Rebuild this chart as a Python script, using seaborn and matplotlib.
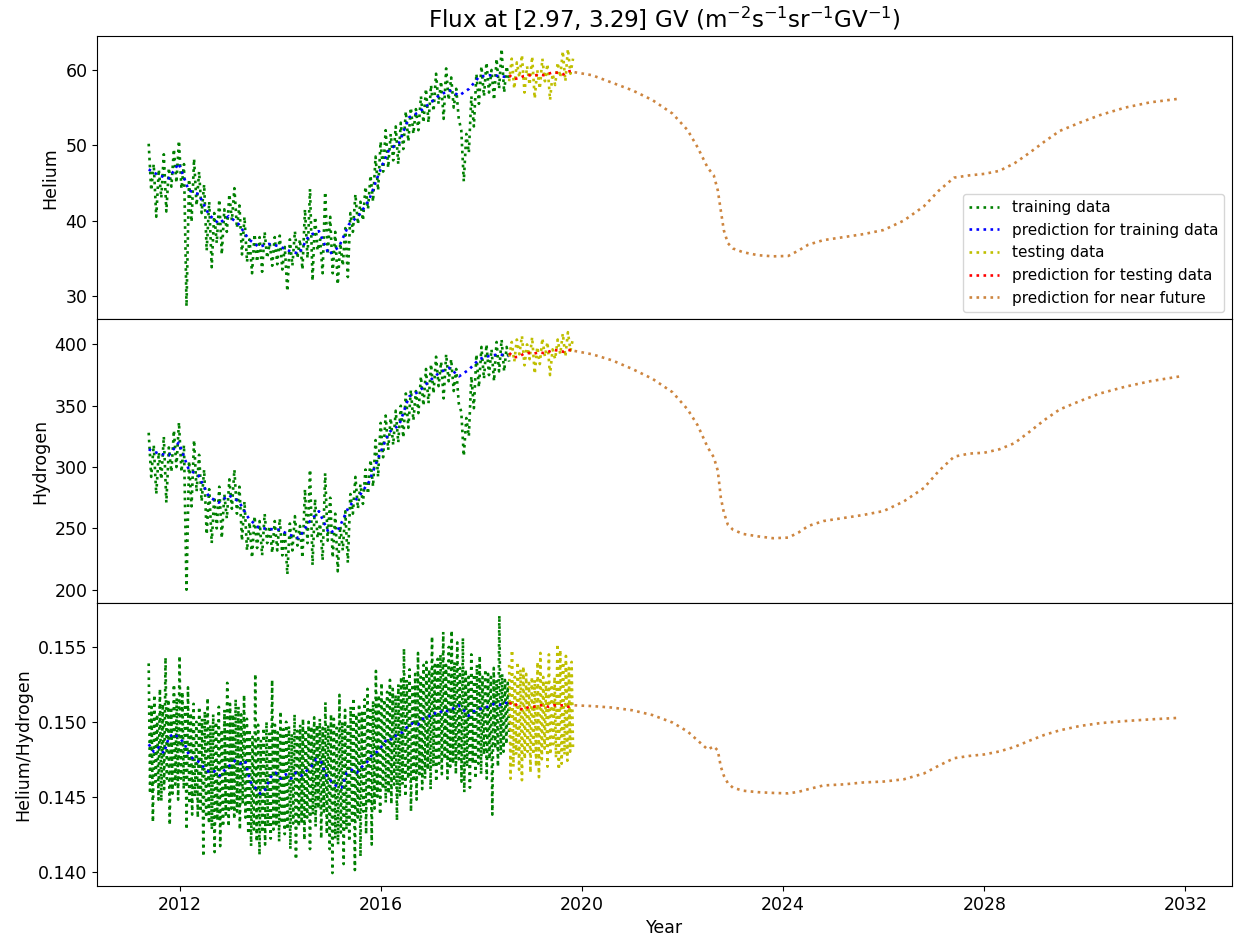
import numpy as np
import pandas as pd
import seaborn as sns
import matplotlib.pyplot as plt
from matplotlib.ticker import MultipleLocator, FormatStrFormatter

# ---- data (decimal years) ----
train_span = (2011.38, 2018.55)
test_span = (2018.55, 2019.82)

future_years = [2019.85, 2020.2, 2020.6, 2021.0, 2021.4, 2021.8, 2022.1, 2022.3, 2022.5, 2022.62,
                2022.70, 2022.76, 2022.82, 2022.9, 2023.0, 2023.2, 2023.5, 2023.8, 2024.1, 2024.3,
                2024.5, 2024.8, 2025.2, 2025.6, 2026.0, 2026.4, 2026.8, 2027.1, 2027.4, 2027.7,
                2028.0, 2028.3, 2028.6, 2028.9, 2029.2, 2029.5, 2029.9, 2030.3, 2030.8, 2031.3, 2031.9]

# helium
he_train = [50.2, 44.0, 47.5, 40.5, 46.8, 43.0, 48.8, 41.2, 47.0, 44.5,
            49.5, 45.0, 50.6, 44.2, 47.5, 28.6, 45.5, 39.8, 48.2, 42.0,
            46.5, 41.0, 44.8, 36.0, 42.5, 33.8, 41.0, 37.0, 42.8, 35.5,
            41.5, 38.5, 43.5, 40.0, 44.3, 39.0, 42.0, 35.5, 40.5, 34.5,
            37.5, 33.0, 38.2, 34.5, 37.8, 33.2, 38.5, 35.0, 37.0, 34.0,
            37.8, 34.2, 38.0, 33.5, 36.5, 30.6, 37.5, 34.0, 38.6, 35.0,
            37.5, 33.5, 41.5, 35.0, 44.2, 32.0, 40.5, 36.0, 37.5, 33.0,
            43.8, 35.5, 40.5, 33.0, 38.5, 31.5, 37.0, 34.0, 39.0, 32.5,
            41.0, 38.5, 43.5, 39.5, 42.5, 40.0, 44.5, 41.5, 46.0, 42.5,
            48.5, 44.0, 50.5, 46.5, 52.0, 47.0, 51.5, 48.0, 52.5, 47.5,
            53.0, 49.5, 54.5, 50.5, 55.0, 51.5, 54.8, 52.0, 56.5, 53.0,
            57.5, 53.0, 58.0, 54.5, 59.5, 55.5, 58.5, 53.5, 60.2, 56.0,
            59.0, 55.0, 57.5, 53.5, 52.0, 45.2, 51.5, 49.0, 56.5, 52.5,
            59.5, 55.5, 60.5, 56.5, 61.0, 57.0, 60.0, 56.0, 61.5, 57.5,
            62.8, 57.0, 60.5, 58.5]
he_train_pred = [46.8, 46.0, 45.6, 47.6, 44.0, 43.5, 40.8, 39.6, 40.6, 39.5, 37.5, 36.5, 36.9,
                 36.6, 36.0, 35.6, 38.0, 38.6, 35.5, 36.5, 39.5, 40.7, 42.7, 46.3, 49.4, 50.3,
                 53.7, 54.4, 55.5, 56.6, 57.3, 56.6, 57.5, 59.1, 59.3, 59.2, 59.0]
he_test = [58.5, 61.5, 57.5, 61.0, 59.0, 62.0, 57.0, 60.5, 58.0, 61.8, 56.2, 60.0, 57.5,
           61.5, 58.5, 60.8, 56.0, 59.5, 58.0, 61.0, 59.0, 62.5, 58.5, 62.8, 59.5, 61.5]
he_test_pred = [59.3, 58.8, 58.9, 59.2, 59.3, 59.2, 59.4, 59.3, 59.5, 59.7, 59.6, 59.4, 59.8, 59.9]
he_future = [59.7, 59.3, 58.3, 57.3, 56.0, 54.2, 52.0, 49.7, 47.0, 46.0,
             44.0, 41.3, 38.7, 37.0, 36.3, 35.8, 35.4, 35.25, 35.3, 36.0,
             36.8, 37.4, 37.8, 38.2, 38.75, 40.0, 41.9, 44.0, 45.7, 46.0,
             46.2, 46.6, 47.6, 49.0, 50.5, 51.9, 53.0, 54.0, 55.0, 55.7, 56.2]

# hydrogen
h_train = [328.0, 292.0, 318.0, 278.0, 312.0, 290.0, 325.0, 271.0, 316.0, 296.0,
           330.0, 300.0, 336.5, 296.0, 318.0, 200.0, 305.0, 268.0, 322.0, 280.0,
           310.0, 272.0, 298.0, 245.0, 282.0, 238.0, 276.0, 250.0, 284.0, 242.0,
           278.0, 258.0, 290.0, 266.0, 298.0, 262.0, 284.0, 240.0, 272.0, 232.0,
           255.0, 226.0, 260.0, 234.0, 256.0, 228.0, 262.0, 238.0, 252.0, 230.0,
           256.0, 232.0, 258.0, 228.0, 248.0, 212.5, 254.0, 232.0, 260.0, 236.0,
           252.0, 226.0, 282.0, 238.0, 298.0, 220.0, 274.0, 242.0, 254.0, 224.0,
           295.0, 240.0, 275.0, 226.0, 262.0, 215.0, 252.0, 232.0, 264.0, 222.0,
           278.0, 262.0, 292.0, 266.0, 286.0, 270.0, 298.0, 278.0, 306.0, 284.0,
           322.0, 292.0, 336.0, 308.0, 342.0, 314.0, 340.0, 318.0, 346.0, 320.0,
           350.0, 324.0, 360.0, 332.0, 363.0, 338.0, 362.0, 344.0, 374.0, 350.0,
           380.0, 352.0, 384.0, 360.0, 390.0, 366.0, 386.0, 356.0, 392.0, 370.0,
           388.0, 362.0, 380.0, 352.0, 345.0, 309.0, 340.0, 325.0, 374.0, 348.0,
           392.0, 365.0, 398.0, 372.0, 400.0, 375.0, 396.0, 370.0, 402.0, 378.0,
           404.0, 378.0, 398.0, 386.0]
h_train_pred = [314.5, 311.0, 309.5, 320.0, 298.0, 293.0, 276.0, 271.0, 277.0, 272.0, 258.0,
                250.5, 249.5, 249.0, 245.0, 242.0, 255.0, 264.0, 246.0, 250.0, 268.0, 276.0,
                288.0, 309.0, 328.5, 334.0, 357.5, 361.6, 370.0, 376.8, 381.0, 374.0, 379.6,
                388.0, 390.6, 392.0, 390.6]
h_test = [390, 402, 386, 404, 392, 407, 383, 400, 388, 406, 376, 398, 384,
          405, 390, 402, 375, 396, 388, 404, 392, 409, 390, 410, 395, 405]
h_test_pred = [393.0, 389.5, 390.0, 392.5, 393.0, 392.5, 393.5, 393.0, 394.0, 395.5,
               395.0, 394.0, 395.5, 395.0]
h_future = [394.7, 392.0, 387.0, 380.0, 372.0, 361.0, 347.0, 334.0, 316.0, 308.0,
            297.0, 275.0, 263.0, 253.0, 249.0, 245.5, 243.5, 242.0, 242.5, 246.5,
            252.0, 256.0, 258.5, 261.0, 264.2, 272.0, 283.0, 297.0, 308.5, 311.0,
            311.7, 314.5, 319.5, 328.8, 338.5, 347.0, 353.8, 360.0, 365.5, 370.0, 374.0]

# helium / hydrogen
ratio_train = [0.1539, 0.1452, 0.1510, 0.1433, 0.1518, 0.1460, 0.1505, 0.1448, 0.1522,
               0.1447, 0.1512, 0.1455, 0.1543, 0.1462, 0.1515, 0.1431, 0.1508, 0.1452,
               0.1525, 0.1458, 0.1516, 0.1448, 0.1544, 0.1462, 0.1520, 0.1455, 0.1512,
               0.1428, 0.1523, 0.1445, 0.1506, 0.1438, 0.1512, 0.1450, 0.1500, 0.1436,
               0.1510, 0.1440, 0.1502, 0.1410, 0.1507, 0.1436, 0.1516, 0.1432, 0.1498,
               0.1428, 0.1505, 0.1413, 0.1500, 0.1434, 0.1510, 0.1417, 0.1495, 0.1430,
               0.1508, 0.1438, 0.1526, 0.1430, 0.1512, 0.1442, 0.1505, 0.1435, 0.1515,
               0.1440, 0.1510, 0.1428, 0.1505, 0.1445, 0.1518, 0.1436, 0.1502, 0.1425,
               0.1495, 0.1417, 0.1490, 0.1428, 0.1532, 0.1420, 0.1498, 0.1411, 0.1488,
               0.1426, 0.1496, 0.1418, 0.1500, 0.1430, 0.1492, 0.1422, 0.1528, 0.1428,
               0.1498, 0.1430, 0.1493, 0.1420, 0.1507, 0.1432, 0.1495, 0.1425, 0.1500,
               0.1428, 0.1497, 0.1415, 0.1492, 0.1432, 0.1505, 0.1408, 0.1494, 0.1430,
               0.1498, 0.1432, 0.1502, 0.1421, 0.1495, 0.1436, 0.1500, 0.1415, 0.1497,
               0.1438, 0.1503, 0.1430, 0.1498, 0.1442, 0.1502, 0.1422, 0.1496, 0.1440,
               0.1513, 0.1425, 0.1498, 0.1415, 0.1505, 0.1399, 0.1502, 0.1422, 0.1496,
               0.1418, 0.1518, 0.1426, 0.1500, 0.1405, 0.1508, 0.1428, 0.1497, 0.1420,
               0.1510, 0.1432, 0.1516, 0.1401, 0.1505, 0.1436, 0.1512, 0.1410, 0.1506,
               0.1440, 0.1515, 0.1425, 0.1522, 0.1445, 0.1510, 0.1418, 0.1514, 0.1442,
               0.1534, 0.1450, 0.1518, 0.1438, 0.1526, 0.1455, 0.1515, 0.1446, 0.1520,
               0.1452, 0.1528, 0.1445, 0.1522, 0.1458, 0.1518, 0.1434, 0.1525, 0.1450,
               0.1530, 0.1458, 0.1549, 0.1450, 0.1528, 0.1462, 0.1535, 0.1440, 0.1525,
               0.1460, 0.1532, 0.1448, 0.1546, 0.1465, 0.1530, 0.1455, 0.1538, 0.1462,
               0.1540, 0.1468, 0.1535, 0.1455, 0.1557, 0.1470, 0.1538, 0.1460, 0.1542,
               0.1472, 0.1545, 0.1465, 0.1560, 0.1475, 0.1538, 0.1462, 0.1550, 0.1470,
               0.1561, 0.1472, 0.1540, 0.1465, 0.1553, 0.1475, 0.1536, 0.1460, 0.1556,
               0.1453, 0.1535, 0.1470, 0.1530, 0.1456, 0.1545, 0.1472, 0.1532, 0.1462,
               0.1538, 0.1472, 0.1544, 0.1465, 0.1530, 0.1478, 0.1535, 0.1462, 0.1532,
               0.1475, 0.1530, 0.1438, 0.1536, 0.1482, 0.1528, 0.1470, 0.1571, 0.1478,
               0.1532, 0.1480, 0.1528, 0.1485, 0.1526, 0.1490]
ratio_train_pred = [0.1485, 0.1480, 0.1483, 0.1479, 0.1490, 0.1492, 0.1489, 0.1486, 0.1477, 0.1475,
                    0.1473, 0.1469, 0.1466, 0.1467, 0.1464, 0.1468, 0.1471, 0.1474, 0.1472, 0.1474,
                    0.1460, 0.1456, 0.1452, 0.1455, 0.1463, 0.1466, 0.1462, 0.1465, 0.1462, 0.1466,
                    0.1464, 0.1467, 0.1470, 0.1475, 0.1473, 0.1464, 0.1460, 0.1457, 0.1456, 0.1466,
                    0.1468, 0.1466, 0.1470, 0.1473, 0.1478, 0.1480, 0.1484, 0.1489, 0.1488, 0.1492,
                    0.1493, 0.1497, 0.1499, 0.1498, 0.1502, 0.1503, 0.1506, 0.1505, 0.1508, 0.1507,
                    0.1509, 0.1511, 0.1508, 0.1504, 0.1507, 0.1508, 0.1510, 0.1510, 0.1512, 0.1511,
                    0.1513, 0.1512]
ratio_test = [0.1538, 0.1462, 0.1548, 0.1470, 0.1530, 0.1478, 0.1540, 0.1468, 0.1535, 0.1461,
              0.1537, 0.1475, 0.1532, 0.1480, 0.1526, 0.1466, 0.1530, 0.1478, 0.1528, 0.1470,
              0.1540, 0.1463, 0.1546, 0.1475, 0.1530, 0.1482, 0.1527, 0.1470, 0.1545, 0.1478,
              0.1525, 0.1485, 0.1530, 0.1476, 0.1552, 0.1468, 0.1548, 0.1472, 0.1540, 0.1478,
              0.1544, 0.1474, 0.1536, 0.1480, 0.1540, 0.1482]
ratio_test_pred = [0.1512, 0.1513, 0.1509, 0.1508, 0.1510, 0.1510, 0.1511, 0.1511, 0.1510,
                   0.1511, 0.1511, 0.1511, 0.1510, 0.1511]
ratio_future = [0.15110, 0.15105, 0.15095, 0.15077, 0.15045, 0.14995, 0.14935, 0.14875, 0.14815, 0.14836,
                0.14808, 0.14700, 0.14640, 0.14590, 0.14560, 0.14540, 0.14530, 0.14525, 0.14522, 0.14532,
                0.14550, 0.14575, 0.14582, 0.14595, 0.14601, 0.14616, 0.14655, 0.14708, 0.14757, 0.14772,
                0.14782, 0.14802, 0.14832, 0.14874, 0.14913, 0.14943, 0.14972, 0.14991, 0.15005, 0.15016,
                0.15027]

labels = ['training data', 'prediction for training data', 'testing data',
          'prediction for testing data', 'prediction for near future']
colors = ['g', 'b', 'y', 'r', 'peru']


def frame(vals, span=None, years=None):
    if years is None:
        years = np.linspace(span[0], span[1], len(vals))
    return pd.DataFrame({'year': years, 'value': vals})


panels = [
    ('Helium', 10, '%d', he_train, he_train_pred, he_test, he_test_pred, he_future),
    ('Hydrogen', 50, '%d', h_train, h_train_pred, h_test, h_test_pred, h_future),
    ('Helium/Hydrogen', 0.005, '%.3f', ratio_train, ratio_train_pred, ratio_test, ratio_test_pred, ratio_future),
]

fig, axs = plt.subplots(3, 1, sharex=True, figsize=(12.45, 9.47), dpi=100)
plt.subplots_adjust(left=0.078, right=0.9895, top=0.962, bottom=0.0645, hspace=0)

lw = 1.9
for ax, (name, step, fmt, tr, trp, te, tep, fu) in zip(axs, panels):
    parts = [frame(tr, train_span), frame(trp, train_span), frame(te, test_span),
             frame(tep, test_span), frame(fu, years=future_years)]
    for df, c, lab in zip(parts, colors, labels):
        sns.lineplot(data=df, x='year', y='value', ax=ax, color=c, linestyle=':',
                     linewidth=lw, estimator=None, errorbar=None, label=lab, legend=False)
    ax.yaxis.set_major_locator(MultipleLocator(step))
    ax.yaxis.set_major_formatter(FormatStrFormatter(fmt))
    ax.set_ylabel(name, fontsize=12.5)
    ax.set_xlabel('')
    ax.tick_params(axis='both', labelsize=12.5)

axs[0].tick_params(axis='x', bottom=False)
axs[1].tick_params(axis='x', bottom=False)
axs[2].xaxis.set_major_locator(MultipleLocator(4))
axs[2].xaxis.set_major_formatter(FormatStrFormatter('%d'))
axs[2].set_xlabel('Year', fontsize=12.5)

axs[0].legend(loc='lower right', fontsize=11)
axs[0].set_title(r'Flux at [2.97, 3.29] GV (m$^{-2}$s$^{-1}$sr$^{-1}$GV$^{-1}$)', fontsize=16.6)

plt.savefig('out.png', dpi=100)
